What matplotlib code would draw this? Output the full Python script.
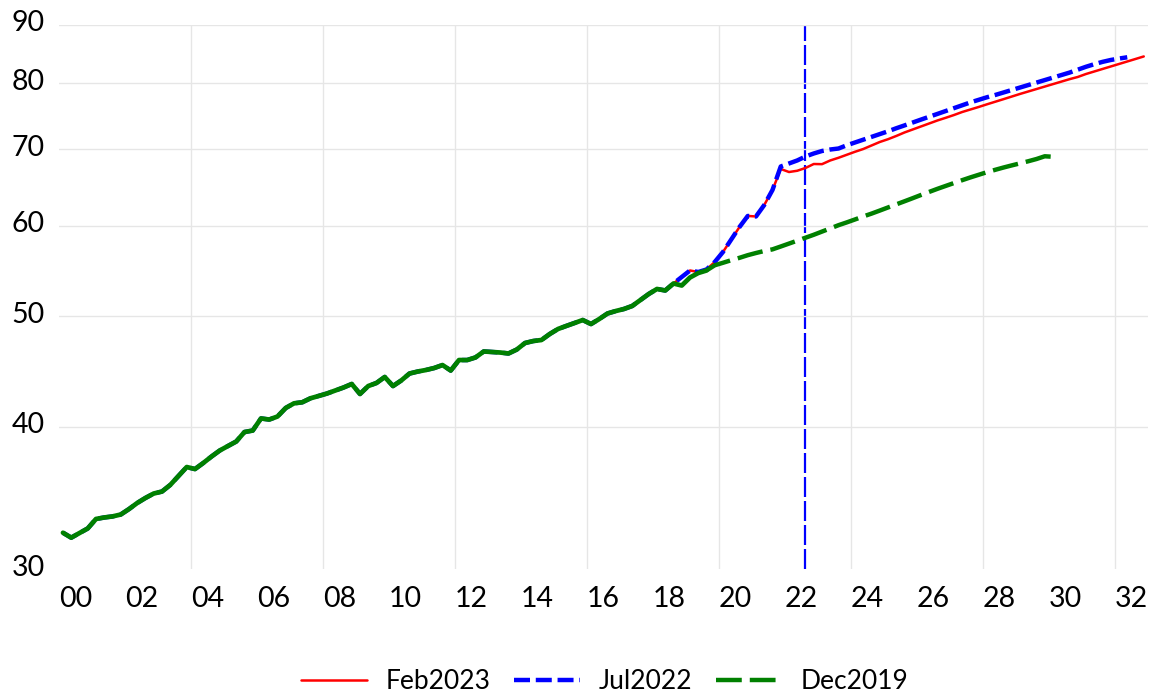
import numpy as np
import pandas as pd
import matplotlib
matplotlib.use("Agg")
import matplotlib.pyplot as plt
from matplotlib.ticker import NullLocator, NullFormatter, FixedLocator
import matplotlib.transforms as mtransforms

plt.rcParams['font.family'] = ['Lato', 'DejaVu Sans']

# ---------------- data (quarterly index level, 2000Q1 onward) ----------------
history = [  # 2000Q1 - 2018Q3, common to all vintages
    32.28, 31.96, 32.26, 32.56, 33.19, 33.29, 33.36, 33.49, 33.86, 34.28,
    34.63, 34.94, 35.08, 35.55, 36.20, 36.86, 36.71, 37.16, 37.65, 38.11,
    38.46, 38.81, 39.56, 39.68, 40.66, 40.57, 40.82, 41.53, 41.92, 42.01,
    42.35, 42.55, 42.76, 43.02, 43.28, 43.59, 42.72, 43.41, 43.68, 44.21,
    43.41, 43.90, 44.52, 44.70, 44.84, 45.02, 45.29, 44.79, 45.75, 45.75,
    45.99, 46.55, 46.50, 46.45, 46.36, 46.73, 47.35, 47.54, 47.64, 48.22,
    48.71, 49.01, 49.30, 49.60, 49.20, 49.70, 50.26, 50.51, 50.72, 51.03,
    51.65, 52.28, 52.81, 52.65, 53.40,
]
recent_history = [  # 2018Q4 - 2021Q3 (Feb2023 and Jul2022 vintages)
    54.10, 54.82, 54.65, 54.93, 55.77, 56.91, 58.36, 59.85, 61.20, 61.14,
    62.57, 64.50,
]
feb2023_tail = [  # 2021Q4 - 2032Q4
    67.29, 66.88, 67.05, 67.43, 67.97, 67.95, 68.46, 68.83, 69.25, 69.67,
    70.06, 70.56, 71.06, 71.46, 71.93, 72.44, 72.88, 73.32, 73.77, 74.22,
    74.62, 75.04, 75.50, 75.88, 76.27, 76.68, 77.07, 77.48, 77.89, 78.30,
    78.69, 79.09, 79.49, 79.89, 80.28, 80.67, 81.03, 81.52, 81.93, 82.35,
    82.77, 83.19, 83.61, 84.03, 84.46,
]
jul2022_tail = [  # 2021Q4 - 2032Q2
    67.63, 68.04, 68.46, 69.01, 69.43, 69.78, 69.99, 70.13, 70.59, 70.99,
    71.39, 71.78, 72.19, 72.61, 73.06, 73.48, 73.92, 74.35, 74.77, 75.21,
    75.65, 76.11, 76.54, 76.98, 77.38, 77.78, 78.14, 78.53, 78.93, 79.33,
    79.72, 80.12, 80.53, 80.93, 81.33, 81.75, 82.23, 82.72, 83.15, 83.54,
    83.86, 84.10, 84.32,
]
dec2019_tail = [  # 2018Q4 - 2030Q1 (history to 2019Q3, then projection)
    53.18, 54.05, 54.54, 54.82, 55.40, 55.68, 55.97, 56.24, 56.54, 56.79,
    57.02, 57.21, 57.54, 57.88, 58.22, 58.57, 58.92, 59.30, 59.68, 60.07,
    60.41, 60.77, 61.14, 61.49, 61.87, 62.26, 62.65, 63.04, 63.44, 63.85,
    64.25, 64.65, 65.03, 65.41, 65.79, 66.16, 66.51, 66.86, 67.18, 67.49,
    67.78, 68.06, 68.35, 68.66, 69.04, 68.97,
]
dec2019_last_actual = "2019Q3"
jul2022_marker = "2022Q3"
series_labels = ["Feb2023", "Jul2022", "Dec2019"]
x_tick_labels = ["00", "02", "04", "06", "08", "10", "12", "14", "16",
                 "18", "20", "22", "24", "26", "28", "30", "32"]
y_ticks = [30, 40, 50, 60, 70, 80, 90]

# ---------------- build series ----------------
def quarter_positions(n, start="2000Q1"):
    p = pd.period_range(start=start, periods=n, freq="Q")
    return np.asarray(p.year + (p.quarter - 0.5) / 4.0, dtype=float)

feb = np.array(history + recent_history + feb2023_tail)
jul = np.array(history + recent_history + jul2022_tail)
dec = np.array(history + dec2019_tail)
x_feb = quarter_positions(len(feb))
x_jul = quarter_positions(len(jul))
x_dec = quarter_positions(len(dec))
p_split = pd.Period(dec2019_last_actual, freq="Q")
split = (p_split - pd.Period("2000Q1", freq="Q")).n
pm = pd.Period(jul2022_marker, freq="Q")
x_marker = pm.year + (pm.quarter - 0.5) / 4.0

# ---------------- figure ----------------
fig = plt.figure(figsize=(11.54, 6.98), dpi=100)
ax = fig.add_axes([0.051, 0.1848, 0.9437, 0.7794])
ax.set_yscale("log")
ax.set_xlim(2000, 2033)
ax.set_ylim(30, 90)

for s in ax.spines.values():
    s.set_visible(False)

ax.axvline(x_marker, color="#0000FF", lw=1.6, dashes=(9, 1.8), zorder=1.5)

l_feb, = ax.plot(x_feb, feb, color="#FF0000", lw=1.8, zorder=2,
                 solid_capstyle="round", label=series_labels[0])
l_jul, = ax.plot(x_jul, jul, color="#0000FF", lw=3.2, dashes=(3.6, 1.3),
                 zorder=3, dash_capstyle="butt", label=series_labels[1])
ax.plot(x_dec[:split + 1], dec[:split + 1], color="#008000", lw=3.4,
        zorder=4, solid_joinstyle="round", solid_capstyle="round")
l_dec, = ax.plot(x_dec[split:], dec[split:], color="#008000", lw=3.2,
                 dashes=(5.8, 1.8), zorder=4, dash_capstyle="butt",
                 label=series_labels[2])

# y axis
ax.yaxis.set_major_locator(FixedLocator(y_ticks))
ax.yaxis.set_minor_locator(NullLocator())
ax.yaxis.set_minor_formatter(NullFormatter())
ax.set_yticklabels([str(v) for v in y_ticks])
ax.grid(which="major", axis="y", color="#E6E6E6", lw=1.0, zorder=0)
ax.get_ygridlines()[0].set_visible(False)

# x axis: labels mid-year, gridlines every 4 years
label_pos = [2000 + 2 * i + 0.5 for i in range(len(x_tick_labels))]
ax.set_xticks(label_pos)
ax.set_xticklabels(x_tick_labels)
ax.set_xticks([2004 + 4 * i for i in range(8)], minor=True)
ax.grid(which="minor", axis="x", color="#E6E6E6", lw=1.0, zorder=0)
ax.grid(which="major", axis="x", visible=False)

ax.tick_params(axis="both", which="both", length=0, labelsize=20.5,
               colors="black")
ax.tick_params(axis="y", pad=10)
ax.tick_params(axis="x", pad=12.5)
offset = mtransforms.ScaledTranslation(0, 4 / 100, fig.dpi_scale_trans)
for lab in ax.get_yticklabels():
    lab.set_transform(lab.get_transform() + offset)

fig.legend(handles=[l_feb, l_jul, l_dec], labels=series_labels,
           loc="center", bbox_to_anchor=(0.524, 0.024), ncol=3,
           frameon=False, fontsize=19, handlelength=2.5,
           handletextpad=0.7, columnspacing=0.9)

fig.savefig("out.png", dpi=100)
